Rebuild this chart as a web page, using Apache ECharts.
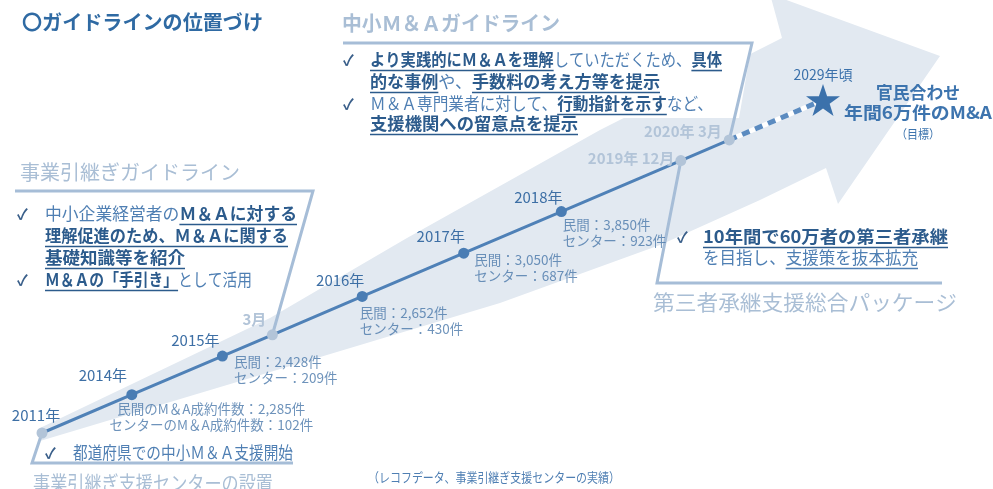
<!DOCTYPE html>
<html>
<head>
<meta charset="utf-8">
<script src="https://cdn.jsdelivr.net/npm/echarts@6/dist/echarts.min.js"></script>
<style>
  html, body { margin: 0; padding: 0; background: #fff; }
  #chart { width: 993px; height: 489px; }
</style>
</head>
<body>
<div id="chart"></div>
<script>
// timeline stages, position along the arrow (0 = 2011, 100 = 2029 target)
const stageLabels = ['2011年', '2014年', '2015年', '3月', '2016年', '2017年', '2018年', '2019年 12月', '2020年 3月', '2029年頃'];
const progress = [0, 11.5, 23.1, 29.5, 41, 54, 66.5, 81.8, 88, 100];
// M&A deals (private: RECOF data, center: succession support centers)
const privateDeals = [null, 2285, 2428, null, 2652, 3050, 3850, null, null, null];
const centerDeals = [null, 102, 209, null, 430, 687, 923, null, null, null];

const FONT = 'Noto Sans CJK JP';
const TITLE = '#2f6aa3';
const DARK = '#2c5b8c';
const REG = '#4f7fb3';
const LIGHT = '#a9bed5';
const MUTED = '#b2c4d8';
const LINE = '#4f81b7';
const DOT = '#4a7db4';
const ARROW = '#e2e9f1';

const chart = echarts.init(document.getElementById('chart'));
const measureCtx = document.createElement('canvas').getContext('2d');
const fontOf = (size, bold) => (bold ? 'bold ' : '') + size + 'px "' + FONT + '", sans-serif';
const fmt = (n) => n.toLocaleString('en-US');

// one line of mixed text: segs = [[text, kind]], kind n=normal, b=bold+underline, u=underline
const textLine = (x, cy, segs, size, width, opts = {}) => {
  let cx = 0;
  const children = [];
  segs.forEach(([t, k]) => {
    const bold = k === 'b' || opts.bold;
    const f = fontOf(size, bold);
    measureCtx.font = f;
    const w = measureCtx.measureText(t).width;
    const color = opts.color || (k === 'b' ? DARK : REG);
    children.push({ type: 'text', x: cx, y: 0, z: 5,
      style: { text: t, font: f, fill: color, verticalAlign: 'middle' } });
    if (k === 'b' || k === 'u') {
      children.push({ type: 'line', z: 5,
        shape: { x1: cx, y1: size * 0.62, x2: cx + w, y2: size * 0.62 },
        style: { stroke: color, lineWidth: 1.6 } });
    }
    cx += w;
  });
  const sx = width ? width / cx : 1;
  const left = opts.center ? x - (cx * sx) / 2 : x;
  return { type: 'group', x: left, y: cy, scaleX: sx, z: 5, children };
};
const check = (x, cy) => ({ type: 'text', x, y: cy, z: 5,
  style: { text: '✓', font: fontOf(15, true), fill: '#3a5f8a', verticalAlign: 'middle' } });

const isMilestone = (i) => privateDeals[i] === null;
const yearLabelPos = [
  { position: 'top', offset: [-6, 0] },
  { position: 'top', offset: [-29, -1] },
  { position: 'top', offset: [-27, 2] },
  { position: 'top', offset: [-18, 3] },
  { position: 'top', offset: [-22, 2] },
  { position: 'top', offset: [-23, 1] },
  { position: 'top', offset: [-23, 4] },
  { position: 'left', offset: [4, -2] },
  { position: 'left', offset: [3, -9] },
];
const dealLabelPos = { 1: [80, 7], 2: [12, -2], 4: [-2, 9], 5: [11, -1], 6: [2, 6] };

const timelineData = progress.slice(0, 9).map((p, i) => ({
  value: [p, p],
  itemStyle: { color: isMilestone(i) ? MUTED : DOT },
  label: {
    show: true,
    formatter: stageLabels[i],
    position: yearLabelPos[i].position,
    offset: yearLabelPos[i].offset,
    color: isMilestone(i) && i > 0 ? MUTED : '#3d6fa5',
    fontWeight: isMilestone(i) && i > 0 ? 'bold' : 'normal',
    fontSize: 15,
    fontFamily: FONT,
  },
}));

const dealData = [];
progress.forEach((p, i) => {
  if (privateDeals[i] === null) return;
  const first = i === 1;
  dealData.push({
    value: [p, p],
    label: {
      show: true,
      position: dealLabelPos[i],
      align: first ? 'center' : 'left',
      verticalAlign: 'top',
      lineHeight: 16,
      fontSize: 13.5,
      fontFamily: FONT,
      color: '#4a78aa',
      formatter: first
        ? '民間のM＆A成約件数：' + fmt(privateDeals[i]) + '件\nセンターのM＆A成約件数：' + fmt(centerDeals[i]) + '件'
        : '民間：' + fmt(privateDeals[i]) + '件\nセンター：' + fmt(centerDeals[i]) + '件',
    },
  });
});

const STAR = 'path://M50,0 L61.8,35.1 L98.9,35.1 L69.1,56.7 L80.3,91.9 L50,70.2 L19.7,91.9 L30.9,56.7 L1.1,35.1 L38.2,35.1 Z';
const targetData = [
  { value: [progress[8], progress[8]], symbol: 'none' },
  { value: [progress[9], progress[9]], symbol: STAR, symbolSize: [34, 32],
    itemStyle: { color: '#3b71ab' },
    label: { show: true, formatter: stageLabels[9], position: 'top', offset: [0, 3],
      color: '#3b71ab', fontSize: 14, fontFamily: FONT } },
];

chart.setOption({
  animation: false,
  grid: { left: 42, right: 170, top: 100, bottom: 56 },
  xAxis: { type: 'value', min: 0, max: 100, show: false },
  yAxis: { type: 'value', min: 0, max: 100, show: false },
  series: [
    {
      name: 'timeline', type: 'line', data: timelineData, z: 3,
      symbol: 'circle', symbolSize: 11,
      lineStyle: { color: LINE, width: 3 },
    },
    {
      name: 'targetBase', type: 'line', z: 2, showSymbol: false,
      data: targetData.map((d) => d.value),
      lineStyle: { color: '#ffffff', width: 5 },
    },
    {
      name: 'target', type: 'line', data: targetData, z: 3,
      lineStyle: { color: '#5b8bc0', width: 5, type: [8, 6] },
    },
    {
      name: 'deals', type: 'scatter', data: dealData, z: 4,
      symbolSize: 1, itemStyle: { color: 'rgba(0,0,0,0)' },
      emphasis: { disabled: true },
    },
  ],
});

const px = progress.map((p) => chart.convertToPixel({ gridIndex: 0 }, [p, p]));
const boxLine = (points) => ({ type: 'polyline', z: 1,
  shape: { points }, style: { stroke: '#a6bdd7', lineWidth: 3, fill: null } });

chart.setOption({
  graphic: [
    // big background arrow
    { type: 'polygon', z: 0, shape: { points: [
      [40, 441], [40, 428], [270, 318], [407, 238], [600, 130], [782, 38],
      [770, -6], [940, 56], [838, 204], [826, 168], [760, 200], [660, 245],
      [500, 303], [237, 382],
    ] }, style: { fill: ARROW } },
    // white area behind the 中小M&A guideline text
    { type: 'polygon', z: 0.5, shape: { points: [[340, 43], [752, 43], [739, 118], [340, 118]] },
      style: { fill: '#ffffff' } },

    boxLine([[15, 191], [313, 191], px[3]]),
    boxLine([[343, 43], [752, 43], px[8]]),
    boxLine([px[7], [657, 283], [942, 283]]),
    boxLine([px[0], [32, 463], [293, 463]]),

    textLine(22, 22, [['〇ガイドラインの位置づけ', 'n']], 20, 241, { bold: true, color: TITLE }),

    textLine(342, 23, [['中小Ｍ＆Ａガイドライン', 'n']], 20, 218, { bold: true, color: LIGHT }),
    check(343, 60),
    textLine(370, 60, [['より実践的にＭ＆Ａを理解', 'b'], ['していただくため、', 'n'], ['具体', 'b']], 17, 352),
    textLine(370, 82, [['的な事例', 'b'], ['や、', 'n'], ['手数料の考え方等を提示', 'b']], 17, 290),
    check(343, 104),
    textLine(370, 104, [['Ｍ＆Ａ専門業者に対して、', 'n'], ['行動指針を示す', 'b'], ['など、', 'n']], 17, 343),
    textLine(370, 124, [['支援機関への留意点を提示', 'b']], 17, 208),

    textLine(20, 172, [['事業引継ぎガイドライン', 'n']], 20, 220, { color: LIGHT }),
    check(17, 214),
    textLine(45, 214, [['中小企業経営者の', 'n'], ['Ｍ＆Ａに対する', 'b']], 17, 252),
    textLine(45, 236, [['理解促進のため、Ｍ＆Ａに関する', 'b']], 17, 243),
    textLine(45, 258, [['基礎知識等を紹介', 'b']], 17, 140),
    check(17, 280),
    textLine(45, 280, [['Ｍ＆Ａの「手引き」', 'b'], ['として活用', 'n']], 17, 207),

    check(45, 453),
    textLine(73, 453, [['都道府県での中小Ｍ＆Ａ支援開始', 'n']], 17, 220),
    textLine(33, 483, [['事業引継ぎ支援センターの設置', 'n']], 20, 240, { color: LIGHT }),
    textLine(368, 477, [['（レコフデータ、事業引継ぎ支援センターの実績）', 'n']], 13, 252),

    check(677, 237),
    textLine(703, 237, [['10年間で60万者の第三者承継', 'b']], 17, 245),
    textLine(703, 258, [['を目指し、', 'n'], ['支援策を抜本拡充', 'u']], 17, 215),
    textLine(653, 302, [['第三者承継支援総合パッケージ', 'n']], 21, 304, { color: LIGHT }),

    textLine(918, 93, [['官民合わせ', 'n']], 17, 84, { bold: true, color: '#3d74ae', center: true }),
    textLine(918, 113, [['年間6万件のM&A', 'n']], 17, 148, { bold: true, color: '#3d74ae', center: true }),
    textLine(918, 134, [['（目標）', 'n']], 12, 44, { color: '#3d74ae', center: true }),
  ],
});
</script>
</body>
</html>
